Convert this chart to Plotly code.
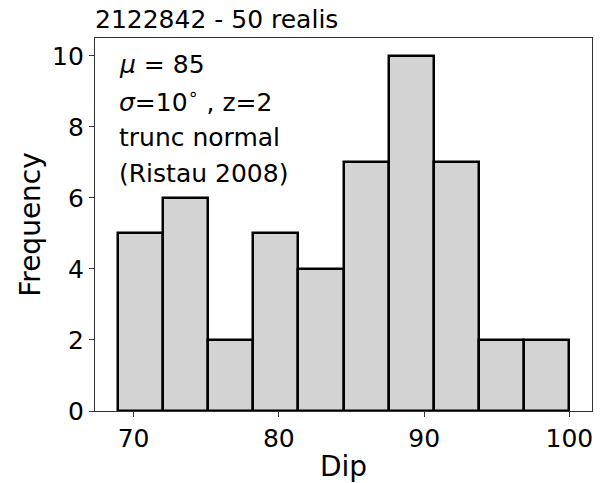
import plotly.graph_objects as go

# Histogram of dip values over 50 realisations
bin_edges = [68.9, 72.01, 75.12, 78.23, 81.34, 84.45, 87.56, 90.67, 93.78, 96.89, 100.0]
counts = [5, 6, 2, 5, 4, 7, 10, 7, 2, 2]

x_ticks = [70, 80, 90, 100]
y_ticks = [0, 2, 4, 6, 8, 10]

info_lines = [
    "<i>μ</i> = 85",
    "<i>σ</i>=10<sup>∘</sup> , z=2",
    "trunc normal",
    "(Ristau 2008)",
]

centers = [(a + b) / 2 for a, b in zip(bin_edges[:-1], bin_edges[1:])]
widths = [b - a for a, b in zip(bin_edges[:-1], bin_edges[1:])]

FONT = "DejaVu Sans"

fig = go.Figure(
    go.Bar(
        x=centers,
        y=counts,
        width=widths,
        marker=dict(color="#d3d3d3", line=dict(color="black", width=2.5)),
        hoverinfo="x+y",
    )
)

span = bin_edges[-1] - bin_edges[0]
axis_common = dict(
    showline=True,
    linecolor="#333333",
    linewidth=1.2,
    mirror=True,
    ticks="outside",
    ticklen=5,
    tickwidth=1.2,
    tickcolor="#333333",
    showgrid=False,
    zeroline=False,
    automargin=False,
    tickfont=dict(family=FONT, size=25, color="black"),
)

fig.update_layout(
    width=616,
    height=483,
    margin=dict(l=95, r=24, t=38, b=72),
    paper_bgcolor="white",
    plot_bgcolor="white",
    showlegend=False,
    bargap=0,
    font=dict(family=FONT, color="black"),
    title=dict(
        text="2122842 - 50 realis",
        font=dict(family=FONT, size=25, color="black"),
        xref="paper",
        x=0,
        xanchor="left",
        yref="container",
        y=1 - 19 / 483,
        yanchor="middle",
        automargin=False,
    ),
    xaxis=dict(
        range=[bin_edges[0] - 0.05 * span, bin_edges[-1] + 0.05 * span],
        tickvals=x_ticks,
        title=dict(text="Dip", font=dict(family=FONT, size=28, color="black"), standoff=8),
        **axis_common,
    ),
    yaxis=dict(
        range=[0, 10.5],
        tickvals=y_ticks,
        title=dict(text="Frequency", font=dict(family=FONT, size=28, color="black"), standoff=3),
        **axis_common,
    ),
)

line_y = [0.930, 0.832, 0.732, 0.636]
for text, yy in zip(info_lines, line_y):
    fig.add_annotation(
        text=text,
        xref="paper",
        yref="paper",
        x=0.045,
        y=yy,
        xanchor="left",
        yanchor="middle",
        showarrow=False,
        font=dict(family=FONT, size=25, color="black"),
    )

fig.write_html("out.html")
